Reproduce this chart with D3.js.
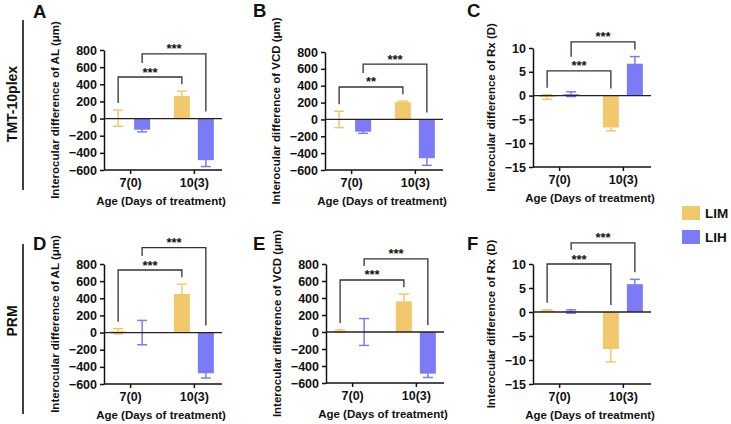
<!DOCTYPE html>
<html>
<head>
<meta charset="utf-8">
<script src="https://cdn.jsdelivr.net/npm/d3@7"></script>
<style>
  body { margin: 0; background: #fff; }
  text { font-family: "Liberation Sans", Arial, sans-serif; font-weight: bold; fill: #111; }
</style>
</head>
<body>
<div id="chart"></div>
<script>
// ---- data ----
const categories = ["7(0)", "10(3)"];
const groups = ["LIM", "LIH"];
const panelNames = ["A", "B", "C", "D", "E", "F"];
const rowLabels = ["TMT-10plex", "PRM"];
const yTitles = [
  "Interocular difference of AL (μm)",
  "Interocular difference of VCD (μm)",
  "Interocular difference of Rx (D)",
  "Interocular difference of AL (μm)",
  "Interocular difference of VCD (μm)",
  "Interocular difference of Rx (D)"
];
const xTitle = "Age (Days of treatment)";

// means per panel: [7(0), 10(3)]
const limMeans  = [[5, 265], [0, 205], [-0.3, -6.7], [15, 450], [10, 360], [0.3, -7.7]];
const limErrors = [[95, 55], [97, 12], [0.5, 0.7], [30, 115], [15, 85], [0.15, 2.7]];
const lihMeans  = [[-130, -485], [-145, -460], [0.3, 6.7], [0, -475], [0, -490], [0.1, 5.8]];
const lihErrors = [[25, 75], [20, 85], [0.5, 1.5], [142, 55], [158, 45], [0.35, 1.0]];

// significance brackets: [LIM 7(0) vs LIM 10(3), LIH 7(0) vs LIH 10(3)]
const bracketTops   = [[485, 755], [385, 655], [5.2, 11.3], [730, 990], [612, 860], [10.0, 14.4]];
const bracketLabels = [["***", "***"], ["**", "***"], ["***", "***"], ["***", "***"], ["***", "***"], ["***", "***"]];

const umTicks = [-600, -400, -200, 0, 200, 400, 600, 800];
const rxTicks = [-15, -10, -5, 0, 5, 10];

// ---- layout ----
const W = 731, H = 424;
const colors = { LIM: "#F2C86C", LIH: "#7B7BF7" };
const layout = [
  { x: 104, top: 50,  bottom: 170, lx: 33,  ly: 18 },
  { x: 325, top: 52,  bottom: 170, lx: 253, ly: 17 },
  { x: 533, top: 48,  bottom: 167, lx: 467, ly: 17 },
  { x: 104, top: 264, bottom: 384, lx: 33,  ly: 250 },
  { x: 326, top: 264, bottom: 383, lx: 253, ly: 250 },
  { x: 533, top: 264, bottom: 384, lx: 467, ly: 250 }
];
const plotW = 118;

const svg = d3.select("#chart").append("svg")
  .attr("width", W).attr("height", H);
svg.append("rect").attr("width", W).attr("height", H).attr("fill", "#fff");

// row labels with bars
rowLabels.forEach((lab, i) => {
  const cy = i === 0 ? 104 : 321;
  const y0 = i === 0 ? 20 : 244, y1 = i === 0 ? 190 : 414;
  svg.append("line").attr("x1", 23).attr("x2", 23).attr("y1", y0).attr("y2", y1)
    .attr("stroke", "#111").attr("stroke-width", 1.6);
  svg.append("text").attr("transform", `translate(17,${cy}) rotate(-90)`)
    .attr("text-anchor", "middle").style("font-size", "14px").text(lab);
});

panelNames.forEach((name, p) => {
  const L = layout[p];
  const isRx = p % 3 === 2;
  const g = svg.append("g");

  const x = d3.scalePoint().domain(categories).range([L.x, L.x + plotW - 2]).padding(0.41);
  const off = d3.scaleBand().domain(groups).range([-20, 20]).paddingInner(0.333);
  const y = d3.scaleLinear().domain(isRx ? [-15, 10] : [-600, 800]).range([L.bottom, L.top]);

  // panel letter
  svg.append("text").attr("x", L.lx).attr("y", L.ly).style("font-size", "18.5px").text(name);

  // axes
  const yAxis = g.append("g").attr("transform", `translate(${L.x},0)`)
    .call(d3.axisLeft(y).tickValues(isRx ? rxTicks : umTicks).tickSize(4).tickSizeOuter(0).tickPadding(3));
  const xAxis = g.append("g").attr("transform", `translate(0,${L.bottom})`)
    .call(d3.axisBottom(x).tickSize(4).tickSizeOuter(0).tickPadding(4));
  [yAxis, xAxis].forEach(a => {
    a.select(".domain").attr("stroke", "#111").attr("stroke-width", 1.5);
    a.selectAll(".tick line").attr("stroke", "#111").attr("stroke-width", 1.5);
    a.selectAll(".tick text").style("font-size", "12.5px").attr("fill", "#111")
      .style("font-family", "'Liberation Sans', Arial, sans-serif").style("font-weight", "bold");
  });
  xAxis.select(".domain").attr("d", `M${L.x},0H${L.x + plotW}`);

  // y title placed left of tick labels
  let labLeft = Infinity;
  yAxis.selectAll(".tick text").each(function () {
    const b = this.getBBox();
    labLeft = Math.min(labLeft, L.x + b.x - 7);
  });
  g.append("text")
    .attr("transform", `translate(${labLeft - 3},${(L.top + L.bottom) / 2}) rotate(-90)`)
    .attr("text-anchor", "middle").style("font-size", "11.5px").text(yTitles[p]);

  // x title
  g.append("text").attr("x", L.x + plotW / 2 - 2).attr("y", L.bottom + 35)
    .attr("text-anchor", "middle").style("font-size", "11.5px").text(xTitle);

  // bars + error bars
  const rows = [];
  categories.forEach((c, ci) => {
    rows.push({ c, grp: "LIM", m: limMeans[p][ci], e: limErrors[p][ci] });
    rows.push({ c, grp: "LIH", m: lihMeans[p][ci], e: lihErrors[p][ci] });
  });
  const cx = d => x(d.c) + off(d.grp) + off.bandwidth() / 2;

  g.selectAll(".bar").data(rows).enter().append("rect")
    .attr("x", d => x(d.c) + off(d.grp))
    .attr("width", off.bandwidth())
    .attr("y", d => y(Math.max(0, d.m)))
    .attr("height", d => Math.abs(y(d.m) - y(0)))
    .attr("fill", d => colors[d.grp]);

  const eb = g.selectAll(".err").data(rows).enter().append("g")
    .attr("stroke", d => colors[d.grp]).attr("stroke-width", 1.5);
  eb.append("line").attr("x1", cx).attr("x2", cx)
    .attr("y1", d => y(d.m - d.e)).attr("y2", d => y(d.m + d.e));
  eb.append("line").attr("x1", d => cx(d) - 5).attr("x2", d => cx(d) + 5)
    .attr("y1", d => y(d.m + d.e)).attr("y2", d => y(d.m + d.e));
  eb.append("line").attr("x1", d => cx(d) - 5).attr("x2", d => cx(d) + 5)
    .attr("y1", d => y(d.m - d.e)).attr("y2", d => y(d.m - d.e));

  // zero line
  g.append("line").attr("x1", L.x).attr("x2", L.x + plotW)
    .attr("y1", y(0)).attr("y2", y(0)).attr("stroke", "#222").attr("stroke-width", 1.3);

  // significance brackets
  const extent = d => y(Math.max(0, d.m, d.m + d.e));
  const find = (c, grp) => rows.find(r => r.c === c && r.grp === grp);
  const lowTop = y(bracketTops[p][0]);
  groups.forEach((grp, k) => {
    const a = find(categories[0], grp), b = find(categories[1], grp);
    const top = y(bracketTops[p][k]);
    const leftEnd = k === 0 ? extent(a) - 7 : lowTop - 14;
    const rightEnd = extent(b) - 7;
    g.append("path")
      .attr("d", `M${cx(a)},${leftEnd}V${top}H${cx(b)}V${rightEnd}`)
      .attr("fill", "none").attr("stroke", "#333").attr("stroke-width", 1.3);
    g.append("text").attr("x", (cx(a) + cx(b)) / 2).attr("y", top - 0.5)
      .attr("text-anchor", "middle").style("font-size", "13px").attr("fill", "#222")
      .text(bracketLabels[p][k]);
  });
});

// legend
groups.forEach((grp, i) => {
  svg.append("rect").attr("x", 682).attr("y", 206 + i * 24).attr("width", 18).attr("height", 14)
    .attr("fill", colors[grp]);
  svg.append("text").attr("x", 705).attr("y", 218 + i * 24).style("font-size", "13.5px").text(grp);
});
</script>
</body>
</html>
